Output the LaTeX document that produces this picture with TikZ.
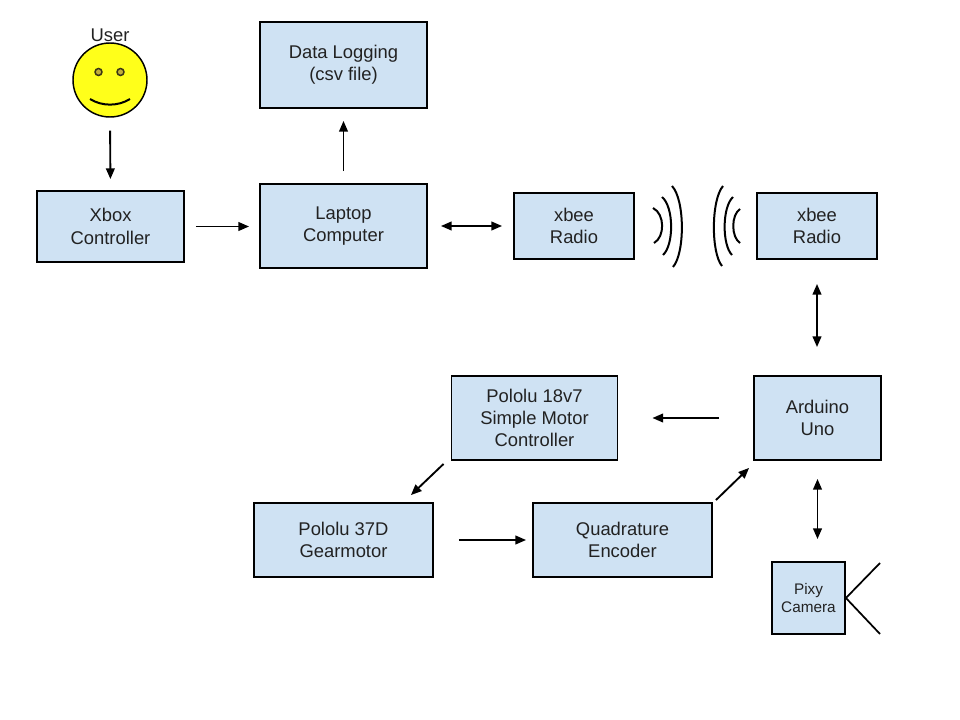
\documentclass[tikz,border=0pt]{standalone}
\usepackage{fontspec}
\setmainfont{Liberation Sans}
\usetikzlibrary{arrows.meta,calc,shapes.geometric}
\definecolor{boxfill}{HTML}{CFE2F3}
\definecolor{eyefill}{HTML}{C2AE3A}
\definecolor{eyeline}{HTML}{3A3514}
\definecolor{smileyfill}{HTML}{FFFF1A}
\definecolor{txt}{HTML}{222222}
\begin{document}
\begin{tikzpicture}[x=0.75pt,y=-0.75pt,
  box/.style 2 args={draw=black, fill=boxfill, line width=1.4pt,
    minimum width=#1*0.75pt, minimum height=#2*0.75pt, inner sep=0pt,
    align=center, font=\fontsize{13.8}{16.8}\selectfont, text=txt},
  arr/.style={line width=1.4pt, -{Triangle[length=8pt,width=6.5pt]}},
  darr/.style={line width=1.4pt, {Triangle[length=8pt,width=6.5pt]}-{Triangle[length=8pt,width=6.5pt]}},
  wave/.style={line width=1.5pt},
  eye/.style={circle, draw=eyeline, fill=eyefill, line width=1.1pt, minimum size=7*0.75pt, inner sep=0pt},
  lbl/.style={font=\fontsize{13.8}{16.8}\selectfont, text=txt, inner sep=0pt}
]
\useasboundingbox (0,0) rectangle (960,720);

% smiley
\node[lbl] (userlbl) at (110,35) {User};
\node[circle, draw=black, fill=smileyfill, line width=1.1pt, minimum size=74*0.75pt, inner sep=0pt] (user) at (110,80) {};
\node[eye] (eyeL) at (98.5,72) {};
\node[eye] (eyeR) at (120.5,72) {};
\draw[line width=1.5pt] (90,99) .. controls (102,106.5) and (118,106.5) .. (130,99);

% boxes
\node[box={147}{71}] (xbox) at (110.5,226.5) {Xbox\\Controller};
\node[box={167}{84}] (laptop) at (343.5,226) {Laptop\\Computer};
\node[box={167}{86}] (data) at (343.5,65) {Data Logging\\(csv file)};
\node[box={120}{66}] (xbeeL) at (574,226) {xbee\\Radio};
\node[box={120}{66}] (xbeeR) at (817,226) {xbee\\Radio};
\node[box={127}{84}] (arduino) at (817.5,418) {Arduino\\Uno};
\node[box={166}{84}] (p18) at (534.5,418) {Pololu 18v7\\Simple Motor\\Controller};
\node[box={179}{74}] (g37) at (343.5,540) {Pololu 37D\\Gearmotor};
\node[box={179}{74}] (quad) at (622.5,540) {Quadrature\\Encoder};
\node[box={73}{72}, font=\fontsize{11.5}{13.8}\selectfont] (pixy) at (808.5,598) {Pixy\\Camera};

% connectors
\draw[arr, shorten <=9.75pt, shorten >=8.25pt] (user.south) -- (xbox.north);
\draw[arr, shorten <=8.25pt, shorten >=7.5pt] (xbox.east) -- (xbox.east -| laptop.west);
\draw[arr, shorten <=9pt, shorten >=9pt] (laptop.north) -- (data.south);
\draw[darr, shorten <=9.75pt, shorten >=8.25pt] (laptop.east) -- (laptop.east -| xbeeL.west);
\draw[darr, shorten <=18pt, shorten >=21pt] (xbeeR.south) -- (xbeeR.south |- arduino.north);
\draw[arr, shorten <=25.5pt, shorten >=25.5pt] (arduino.west) -- (arduino.west -| p18.east);
\draw[arr] ($(p18.south west)+(-7,3)$) coordinate (a1s) -- ($(g37.north east)+(-23,-7)$) coordinate (a1e);
\draw[arr, shorten <=18.75pt, shorten >=4.5pt] (g37.east) -- (g37.east -| quad.west);
\draw[arr] ($(quad.north east)+(3,-2)$) coordinate (a2s) -- ($(arduino.south west)+(-4,7)$) coordinate (a2e);
\draw[darr, shorten <=13.5pt, shorten >=16.5pt] (arduino.south) -- (arduino.south |- pixy.north);

% camera lens lines
\coordinate (lensT) at (880,563);
\coordinate (lensB) at (880,634);
\draw[line width=1.3pt] (lensT) -- (pixy.east) -- (lensB);

% radio waves
\draw[wave] (653,208) .. controls (665,214) and (665,237) .. (654,243);
\draw[wave] (662,197) .. controls (674,207) and (674,245) .. (663,255);
\draw[wave] (672,186) .. controls (685,200) and (685,253) .. (673,267);
\draw[wave] (723,186) .. controls (711,200) and (711,253) .. (722,266);
\draw[wave] (733,197) .. controls (722,207) and (722,245) .. (732,255);
\draw[wave] (740,209) .. controls (731,215) and (731,237) .. (740,243);
\end{tikzpicture}
\end{document}
